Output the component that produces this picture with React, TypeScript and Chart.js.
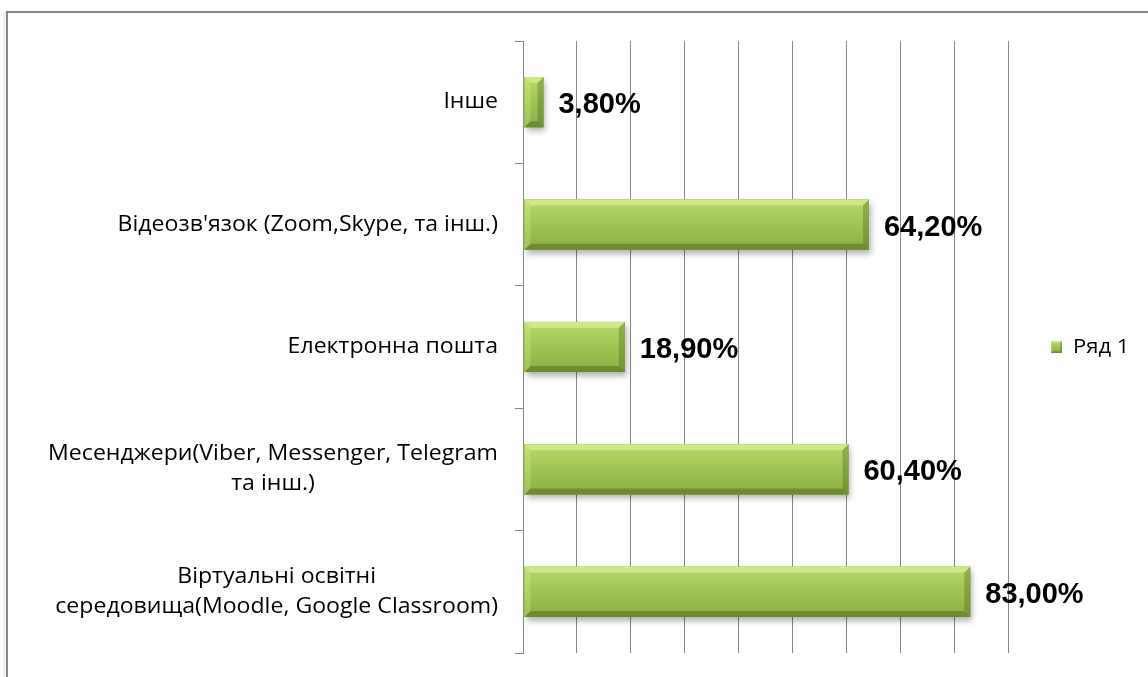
import React, { useEffect, useRef } from 'react';
import { Chart, registerables } from 'chart.js';

Chart.register(...registerables);

// ---- data ----
const categories: (string | string[])[] = [
  'Інше',
  "Відеозв'язок (Zoom,Skype, та інш.)",
  'Електронна пошта',
  ['Месенджери(Viber, Messenger, Telegram', 'та інш.)'],
  ['Віртуальні освітні', 'середовища(Moodle, Google Classroom)'],
];
const values = [3.8, 64.2, 18.9, 60.4, 83.0];
const seriesName = 'Ряд 1';
const axisMin = 0;
const axisMax = 90;
const axisStep = 10;

// ---- style ----
const GRID = '#868686';
const CAT_FONT = '21px "Open Sans"';
const CAT_SX = 1.1;
const CAT_LH = 30;
const CAT_RIGHT_GAP = 25;
const LEG_FONT = '20px "Open Sans"';
const LEG_SX = 1.1;
const VAL_FONT = 'bold 29px "Liberation Sans", Arial, sans-serif';

const fmt = (v: number) => v.toFixed(2).replace('.', ',') + '%';

function paintBevelBox(ctx: CanvasRenderingContext2D, left: number, right: number, top: number, bottom: number, shadow: boolean) {
  const w = right - left;
  const h = bottom - top;
  if (w <= 0 || h <= 0) return;
  ctx.save();
  if (shadow) {
    ctx.shadowColor = 'rgba(0,0,0,0.3)';
    ctx.shadowBlur = 6;
    ctx.shadowOffsetX = 2;
    ctx.shadowOffsetY = 4;
    ctx.fillStyle = '#8fb14a';
    ctx.fillRect(left, top, w, h);
    ctx.shadowColor = 'transparent';
  }
  const g = ctx.createLinearGradient(0, top, 0, bottom);
  g.addColorStop(0, '#b9d86c');
  g.addColorStop(0.5, '#a0c453');
  g.addColorStop(1, '#8cae45');
  ctx.fillStyle = g;
  ctx.fillRect(left, top, w, h);
  const b = Math.max(1, Math.min(6, h * 0.14, w / 2));
  // top bevel (light)
  ctx.fillStyle = 'rgba(235,255,170,0.45)';
  ctx.beginPath();
  ctx.moveTo(left, top); ctx.lineTo(right, top); ctx.lineTo(right - b, top + b); ctx.lineTo(left + b, top + b);
  ctx.closePath(); ctx.fill();
  // left bevel (light)
  ctx.fillStyle = 'rgba(225,250,160,0.25)';
  ctx.beginPath();
  ctx.moveTo(left, top); ctx.lineTo(left + b, top + b); ctx.lineTo(left + b, bottom - b); ctx.lineTo(left, bottom);
  ctx.closePath(); ctx.fill();
  // right bevel (dark)
  ctx.fillStyle = 'rgba(60,85,10,0.3)';
  ctx.beginPath();
  ctx.moveTo(right, top); ctx.lineTo(right - b, top + b); ctx.lineTo(right - b, bottom - b); ctx.lineTo(right, bottom);
  ctx.closePath(); ctx.fill();
  // bottom bevel (dark)
  ctx.fillStyle = 'rgba(60,85,10,0.38)';
  ctx.beginPath();
  ctx.moveTo(left, bottom); ctx.lineTo(left + b, bottom - b); ctx.lineTo(right - b, bottom - b); ctx.lineTo(right, bottom);
  ctx.closePath(); ctx.fill();
  ctx.restore();
}

const decorPlugin = {
  id: 'decor',
  afterDatasetsDraw(chart: any) {
    const ctx: CanvasRenderingContext2D = chart.ctx;
    const meta = chart.getDatasetMeta(0);
    meta.data.forEach((el: any, i: number) => {
      const { x, y, base, height } = el.getProps(['x', 'y', 'base', 'height'], true);
      const left = Math.min(x, base);
      const right = Math.max(x, base);
      paintBevelBox(ctx, left + 1, right, y - height / 2, y + height / 2, true);
      ctx.save();
      ctx.font = VAL_FONT;
      ctx.fillStyle = '#000';
      ctx.textAlign = 'left';
      ctx.textBaseline = 'middle';
      ctx.fillText(fmt(values[i]), right + 15, y + 3);
      ctx.restore();
    });
  },
  afterDraw(chart: any) {
    const ctx: CanvasRenderingContext2D = chart.ctx;
    const yScale = chart.scales.y;
    const xRight = yScale.right - CAT_RIGHT_GAP;
    ctx.save();
    ctx.font = CAT_FONT;
    ctx.fillStyle = '#000';
    ctx.textBaseline = 'middle';
    categories.forEach((lab, i) => {
      const lines = Array.isArray(lab) ? lab : [lab];
      const cy = yScale.getPixelForValue(i);
      const widths = lines.map((l) => ctx.measureText(l).width * CAT_SX);
      const block = Math.max(...widths);
      lines.forEach((line, j) => {
        const ly = cy + (j - (lines.length - 1) / 2) * CAT_LH;
        ctx.save();
        if (lines.length === 1) {
          ctx.translate(xRight, ly);
          ctx.textAlign = 'right';
        } else {
          ctx.translate(xRight - block / 2, ly);
          ctx.textAlign = 'center';
        }
        ctx.scale(CAT_SX, 1);
        ctx.fillText(line, 0, 0);
        ctx.restore();
      });
    });
    ctx.restore();

    // legend
    const area = chart.chartArea;
    const ly = (area.top + area.bottom) / 2;
    const bx = area.right + 43;
    paintBevelBox(ctx, bx, bx + 11, ly - 6, ly + 6, false);
    ctx.save();
    ctx.font = LEG_FONT;
    ctx.fillStyle = '#000';
    ctx.textAlign = 'left';
    ctx.textBaseline = 'middle';
    ctx.translate(bx + 22, ly);
    ctx.scale(LEG_SX, 1);
    ctx.fillText(chart.data.datasets[0].label, 0, 0);
    ctx.restore();
  },
};

export default function App() {
  const ref = useRef<HTMLCanvasElement>(null);
  useEffect(() => {
    if (!ref.current) return;
    const chart = new Chart(ref.current, {
      type: 'bar',
      data: {
        labels: categories as any,
        datasets: [
          {
            label: seriesName,
            data: values,
            backgroundColor: '#9bbb59',
            borderWidth: 0,
            barPercentage: 0.41,
            categoryPercentage: 1,
          },
        ],
      },
      options: {
        indexAxis: 'y',
        animation: false,
        responsive: false,
        maintainAspectRatio: false,
        layout: { padding: { left: 0, top: 41, right: 140, bottom: 24 } },
        plugins: { legend: { display: false }, tooltip: { enabled: false } },
        scales: {
          x: {
            min: axisMin,
            max: axisMax,
            ticks: { display: false, stepSize: axisStep },
            grid: { color: GRID, drawTicks: false, lineWidth: 1 },
            border: { display: false },
            afterFit: (s: any) => { s.height = 0; },
          },
          y: {
            ticks: { display: false },
            grid: { offset: true, drawOnChartArea: false, drawTicks: true, tickLength: 8, color: GRID },
            border: { display: true, color: GRID },
            afterFit: (s: any) => { s.width = 523; },
          },
        },
      },
      plugins: [decorPlugin],
    });
    return () => chart.destroy();
  }, []);

  return (
    <div style={{ position: 'fixed', left: 0, top: 0, width: 1148, height: 677, background: '#fff', overflow: 'hidden' }}>
      <div
        style={{
          position: 'absolute', left: 6, top: 11, width: 2000, height: 2000,
          borderLeft: '2px solid #868686', borderTop: '2px solid #868686',
          boxShadow: '-3px 0 0 #efefef',
        }}
      />
      <canvas ref={ref} width={1148} height={677} style={{ position: 'absolute', left: 0, top: 0, width: 1148, height: 677 }} />
    </div>
  );
}
